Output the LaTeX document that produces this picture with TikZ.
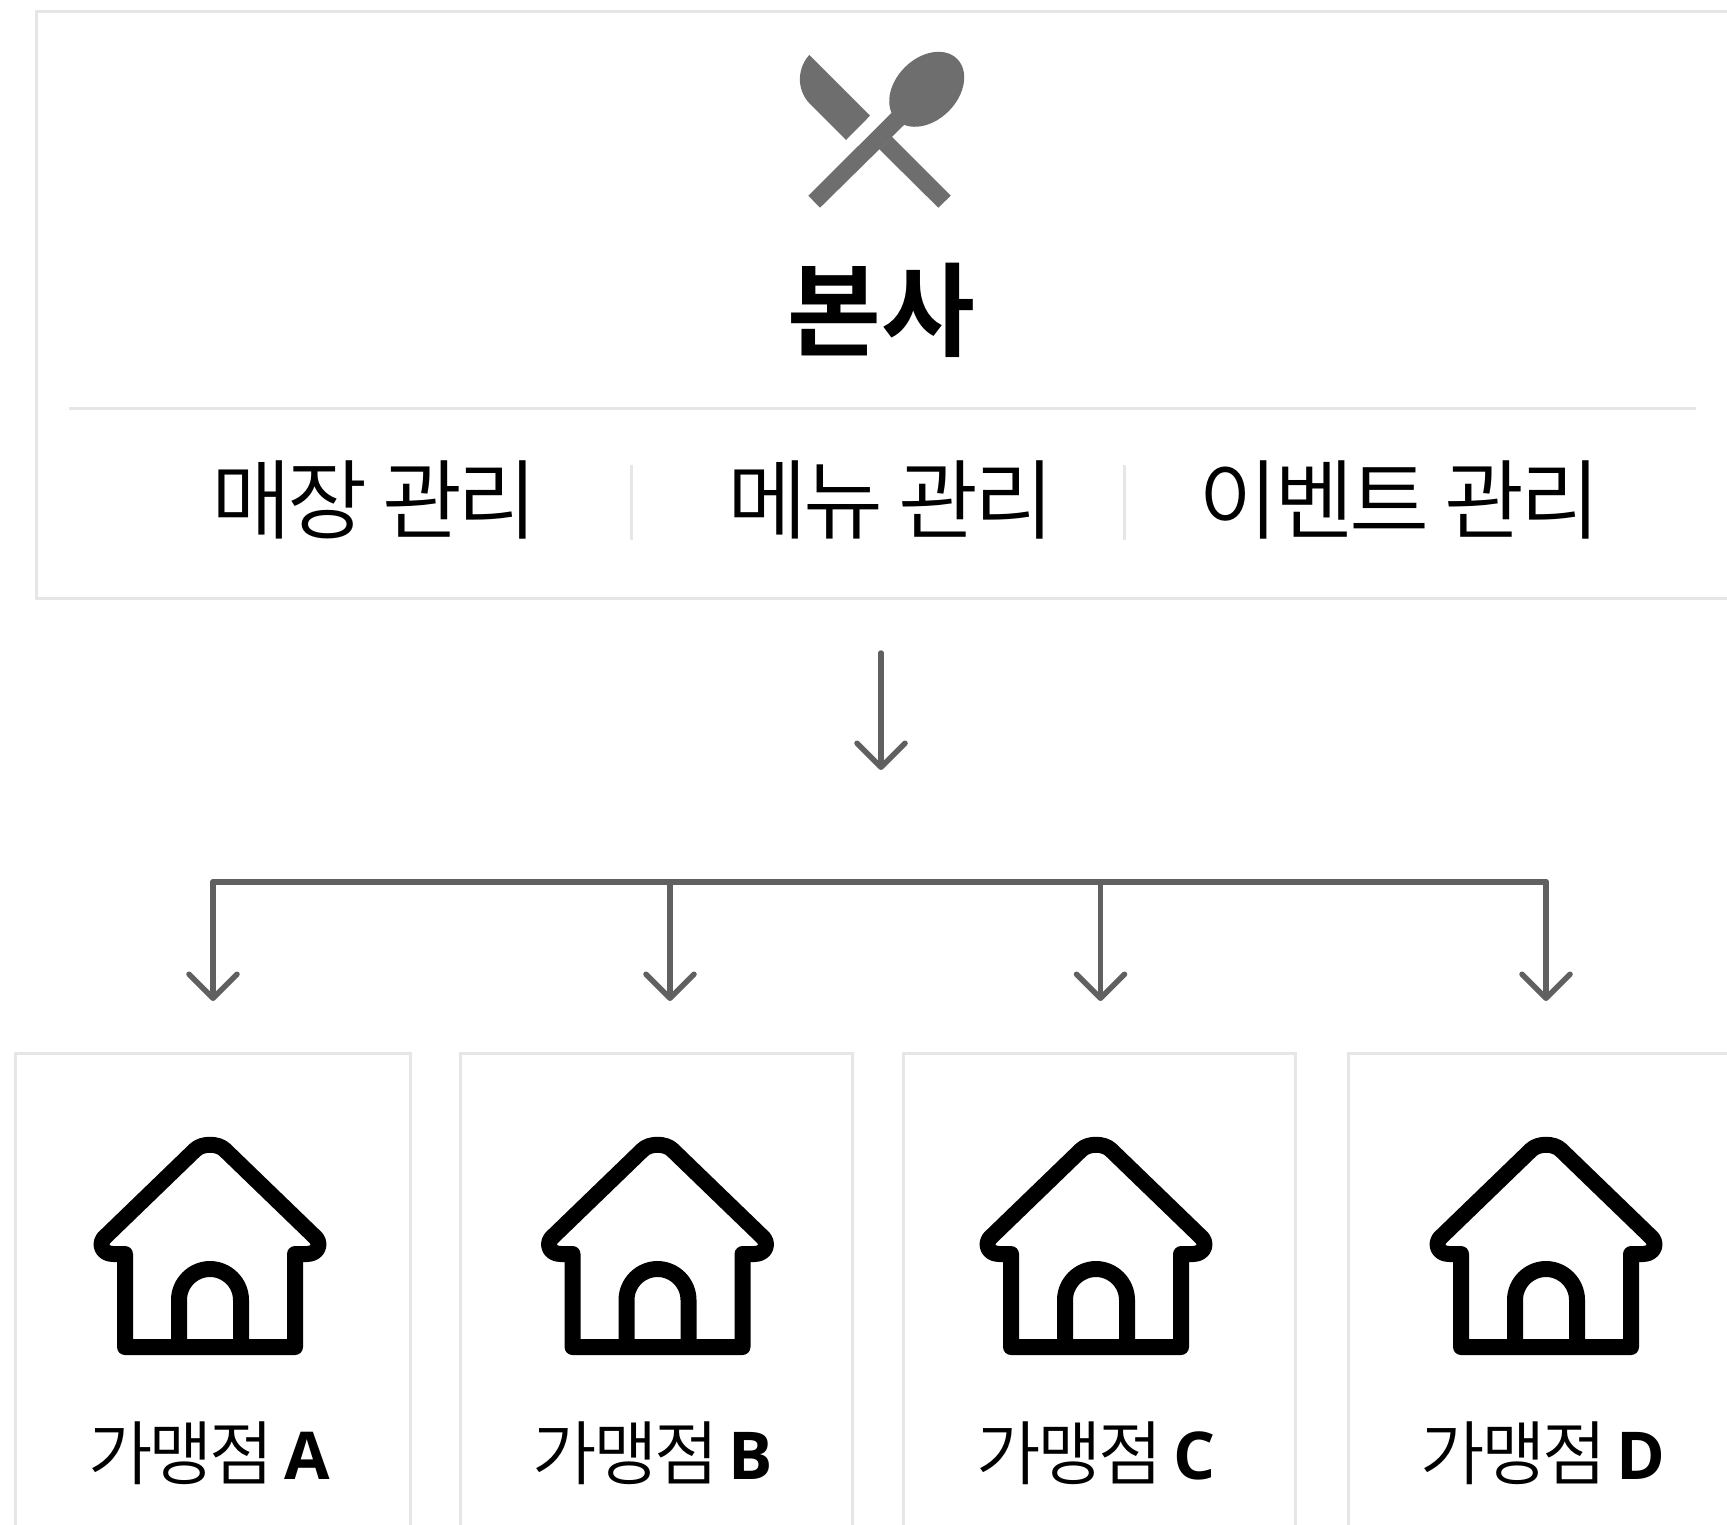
\documentclass[tikz,border=0pt]{standalone}
\usepackage{fontspec}
\usetikzlibrary{arrows.meta}
\setmainfont{Noto Sans CJK KR}
\newfontfamily\lightkr[LetterSpace=-5]{Noto Sans CJK KR DemiLight}
\newfontfamily\boldkr{Noto Sans CJK KR Bold}
\newfontfamily\latinbold{Open Sans}
\definecolor{frameC}{HTML}{E6E6E6}
\definecolor{iconC}{HTML}{6E6E6E}
\definecolor{connC}{HTML}{606060}
\tikzset{
  x=0.5pt,y=-0.5pt,
  frame/.style={draw=frameC,line width=1.5pt,fill=white,inner sep=0pt,outer sep=0pt,anchor=north west},
  conn/.style={draw=connC,line width=2.75pt,line cap=round,line join=round},
  arr/.style={conn,-{Straight Barb[length=12pt,width=24pt,round]}},
  sep/.style={draw=frameC,line width=1.5pt},
  hq/.style={font=\boldkr\fontsize{51}{51}\selectfont,inner sep=0pt},
  menuitem/.style={font=\lightkr\fontsize{43.5}{44}\selectfont,inner sep=0pt},
  branch/.style={font=\lightkr\fontsize{35}{35}\selectfont,inner sep=0pt},
  houseline/.style={draw=black,line width=8pt,line join=round,line cap=butt},
}
\newcommand{\houseicon}[1]{%
  \begin{scope}[shift={(#1,1347)}]
    \draw[houseline] (-85,0) -- (-85,-93) -- (-97,-93)
      .. controls (-109,-93) and (-112,-105) .. (-104,-111)
      -- (-15,-197) .. controls (-8,-204) and (8,-204) .. (15,-197)
      -- (104,-111) .. controls (112,-105) and (109,-93) .. (97,-93)
      -- (85,-93) -- (85,0) -- cycle;
    \draw[houseline] (-31,0) -- (-31,-47)
      .. controls (-31,-64) and (-17,-78) .. (0,-78)
      .. controls (17,-78) and (31,-64) .. (31,-47) -- (31,0);
  \end{scope}}
\newcommand{\branchtext}[1]{가맹점 \hspace{-1pt}{\latinbold\bfseries\fontsize{33}{33}\selectfont #1}}
\begin{document}
\begin{tikzpicture}
\useasboundingbox (0,0) rectangle (1727,1524);
\clip (0,0) rectangle (1727,1524);
\fill[white] (0,0) rectangle (1727,1524);
% head office frame
\node[frame,minimum width=900pt,minimum height=293pt] (hqbox) at (36,12) {};
\draw[sep] (69,408) -- (1696,408);
\draw[sep] (631,465) -- (631,540);
\draw[sep] (1124.5,465) -- (1124.5,540);
% cutlery icon
\fill[iconC] (809.3,55) -- (870,115.7) -- (846,140) -- (810,104)
  .. controls (795,88.3) and (798.3,66.7) .. (809.3,55) -- cycle;
\fill[iconC] (891.7,136.7) -- (950.7,195.7) -- (938.3,207.7) -- (879.3,149.3) -- cycle;
\fill[iconC] (808.3,195.7) -- (891.7,112.7) -- (904,125) -- (820,207.7) -- cycle;
\fill[iconC,shift={(926.7,89.3)},rotate=45] (0,0) ellipse (43 and 31);
\node[hq] (hqtitle) at (881,310) {본사};
\node[menuitem] (m1) at (374.5,500) {매장 관리};
\node[menuitem] (m2) at (891,500) {메뉴 관리};
\node[menuitem] (m3) at (1399.5,500) {이벤트 관리};
% connectors
\coordinate (topstart) at (881,653);
\coordinate (toptip) at (881,770);
\draw[arr] (topstart) -- (toptip);
\coordinate (busA) at (213,882);
\coordinate (busB) at (670,882);
\coordinate (busC) at (1100.5,882);
\coordinate (busD) at (1546,882);
\coordinate (tipA) at (213,1001);
\coordinate (tipB) at (670,1001);
\coordinate (tipC) at (1100.5,1001);
\coordinate (tipD) at (1546,1001);
\draw[conn] (busA) -- (busD);
\draw[arr] (busA) -- (tipA);
\draw[arr] (busB) -- (tipB);
\draw[arr] (busC) -- (tipC);
\draw[arr] (busD) -- (tipD);
% branch frames
\node[frame,minimum width=197.5pt,minimum height=300pt] (boxA) at (15,1053) {};
\node[frame,minimum width=196pt,minimum height=300pt] (boxB) at (460,1053) {};
\node[frame,minimum width=196pt,minimum height=300pt] (boxC) at (903,1053) {};
\node[frame,minimum width=300pt,minimum height=300pt] (boxD) at (1348,1053) {};
\houseicon{210}
\houseicon{657.5}
\houseicon{1096}
\houseicon{1546}
\node[branch] (lA) at (209,1453) {\branchtext{A}};
\node[branch] (lB) at (653,1453) {\branchtext{B}};
\node[branch] (lC) at (1096,1453) {\branchtext{C}};
\node[branch] (lD) at (1543,1453) {\branchtext{D}};
\end{tikzpicture}
\end{document}
